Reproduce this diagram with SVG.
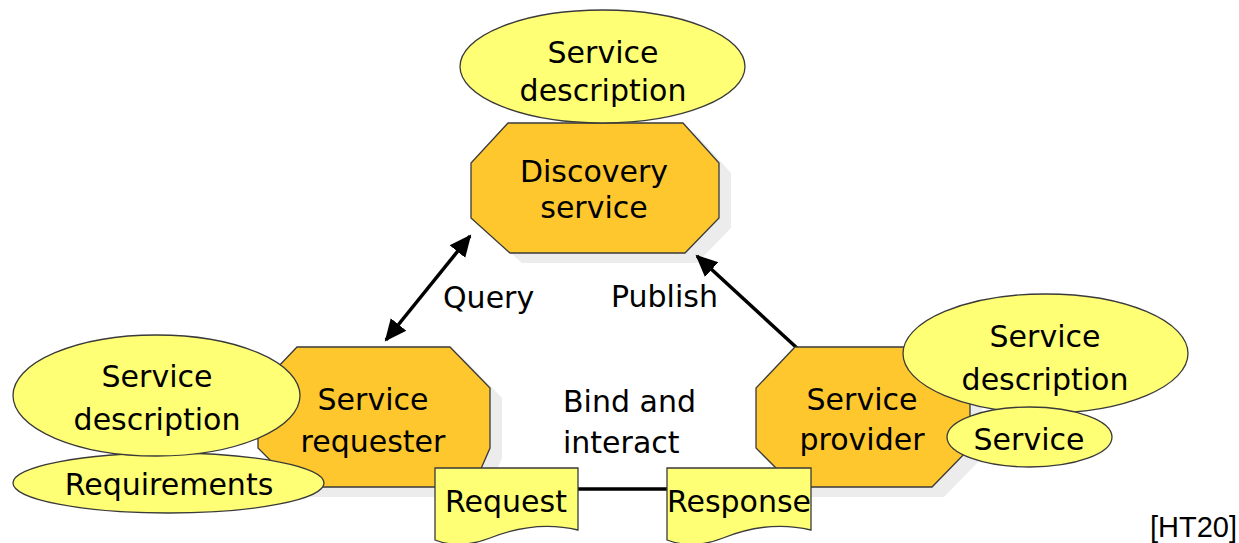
<svg xmlns="http://www.w3.org/2000/svg" width="1239" height="543" viewBox="0 0 1239 543">
<style>
.oct{fill:#FDC72D;stroke:#3a3a3a;stroke-width:1.3}
.shadow{fill:#ececec}
.ell{fill:#FFFF75;stroke:#3a3a3a;stroke-width:1.3}
.t{font-family:"DejaVu Sans",Verdana,sans-serif;font-size:30px;fill:#000;text-anchor:middle}
.lbl{font-family:"DejaVu Sans",Verdana,sans-serif;font-size:30px;fill:#000}
.conn{stroke:#000;stroke-width:3.5;fill:none}
</style>
<defs>
<marker id="ah" markerUnits="userSpaceOnUse" markerWidth="24" markerHeight="22" refX="20" refY="10" orient="auto-start-reverse" viewBox="0 0 24 20">
<path d="M0,0 L22,10 L0,20 Z" fill="#000"/>
</marker>
</defs>

<g id="shadows">
<polygon class="shadow" points="520,133 695,133 731,173 731,228 697,263 522,263 483,228 483,173"/>
<polygon class="shadow" points="309,357 462,357 502,398 502,458 485,497 309,497 270,458 270,398"/>
<polygon class="shadow" points="807,357 944,357 982,398 982,458 944,497 807,497 768,458 768,398"/>
</g>

<g id="connectors">
<line class="conn" x1="386" y1="340" x2="470" y2="236" marker-start="url(#ah)" marker-end="url(#ah)"/>
<line class="conn" x1="797" y1="348" x2="697" y2="256" marker-end="url(#ah)"/>
<line class="conn" x1="578" y1="489" x2="667" y2="489"/>
</g>

<g id="discovery-service">
<polygon class="oct" points="508,123 683,123 719,163 719,218 685,253 510,253 471,218 471,163"/>
<text class="t" x="594" y="182">Discovery</text>
<text class="t" x="594" y="218">service</text>
</g>

<g id="discovery-description">
<ellipse class="ell" cx="602.5" cy="66.5" rx="142.5" ry="56.5"/>
<text class="t" x="603" y="63">Service</text>
<text class="t" x="603" y="101">description</text>
</g>

<g id="service-requester">
<polygon class="oct" points="297,347 450,347 490,388 490,448 473,487 297,487 258,448 258,388"/>
<text class="t" x="373" y="410">Service</text>
<text class="t" x="373" y="452">requester</text>
</g>

<g id="requirements">
<ellipse class="ell" cx="168.5" cy="483" rx="155.5" ry="30"/>
<text class="t" x="169" y="495">Requirements</text>
</g>

<g id="requester-description">
<ellipse class="ell" cx="156.5" cy="395.5" rx="143.5" ry="60.5"/>
<text class="t" x="157" y="387">Service</text>
<text class="t" x="157" y="430">description</text>
</g>

<g id="service-provider">
<polygon class="oct" points="795,347 932,347 970,388 970,448 932,487 795,487 756,448 756,388"/>
<text class="t" x="862" y="410">Service</text>
<text class="t" x="862" y="450">provider</text>
</g>

<g id="provider-description">
<ellipse class="ell" cx="1045.5" cy="353.5" rx="142.5" ry="59.5"/>
<text class="t" x="1045" y="347">Service</text>
<text class="t" x="1045" y="390">description</text>
</g>

<g id="service">
<ellipse class="ell" cx="1029.5" cy="437" rx="82.5" ry="30"/>
<text class="t" x="1029" y="450">Service</text>
</g>

<g id="request">
<path class="ell" d="M435,468 H578 V530 C545,522 515,528 490,538 C470,546 450,546 435,540 Z"/>
<text class="t" x="506" y="512">Request</text>
</g>

<g id="response">
<path class="ell" d="M667,468 H811 V530 C778,522 748,528 723,538 C703,546 683,546 667,540 Z"/>
<text class="t" x="739" y="512">Response</text>
</g>

<g id="labels">
<text class="lbl" x="443" y="308">Query</text>
<text class="lbl" x="611" y="307">Publish</text>
<text class="lbl" x="563" y="412">Bind and</text>
<text class="lbl" x="563" y="453">interact</text>
<text x="1237" y="537" font-family="Liberation Sans, Arial, sans-serif" font-size="29" text-anchor="end" fill="#000">[HT20]</text>
</g>
</svg>
